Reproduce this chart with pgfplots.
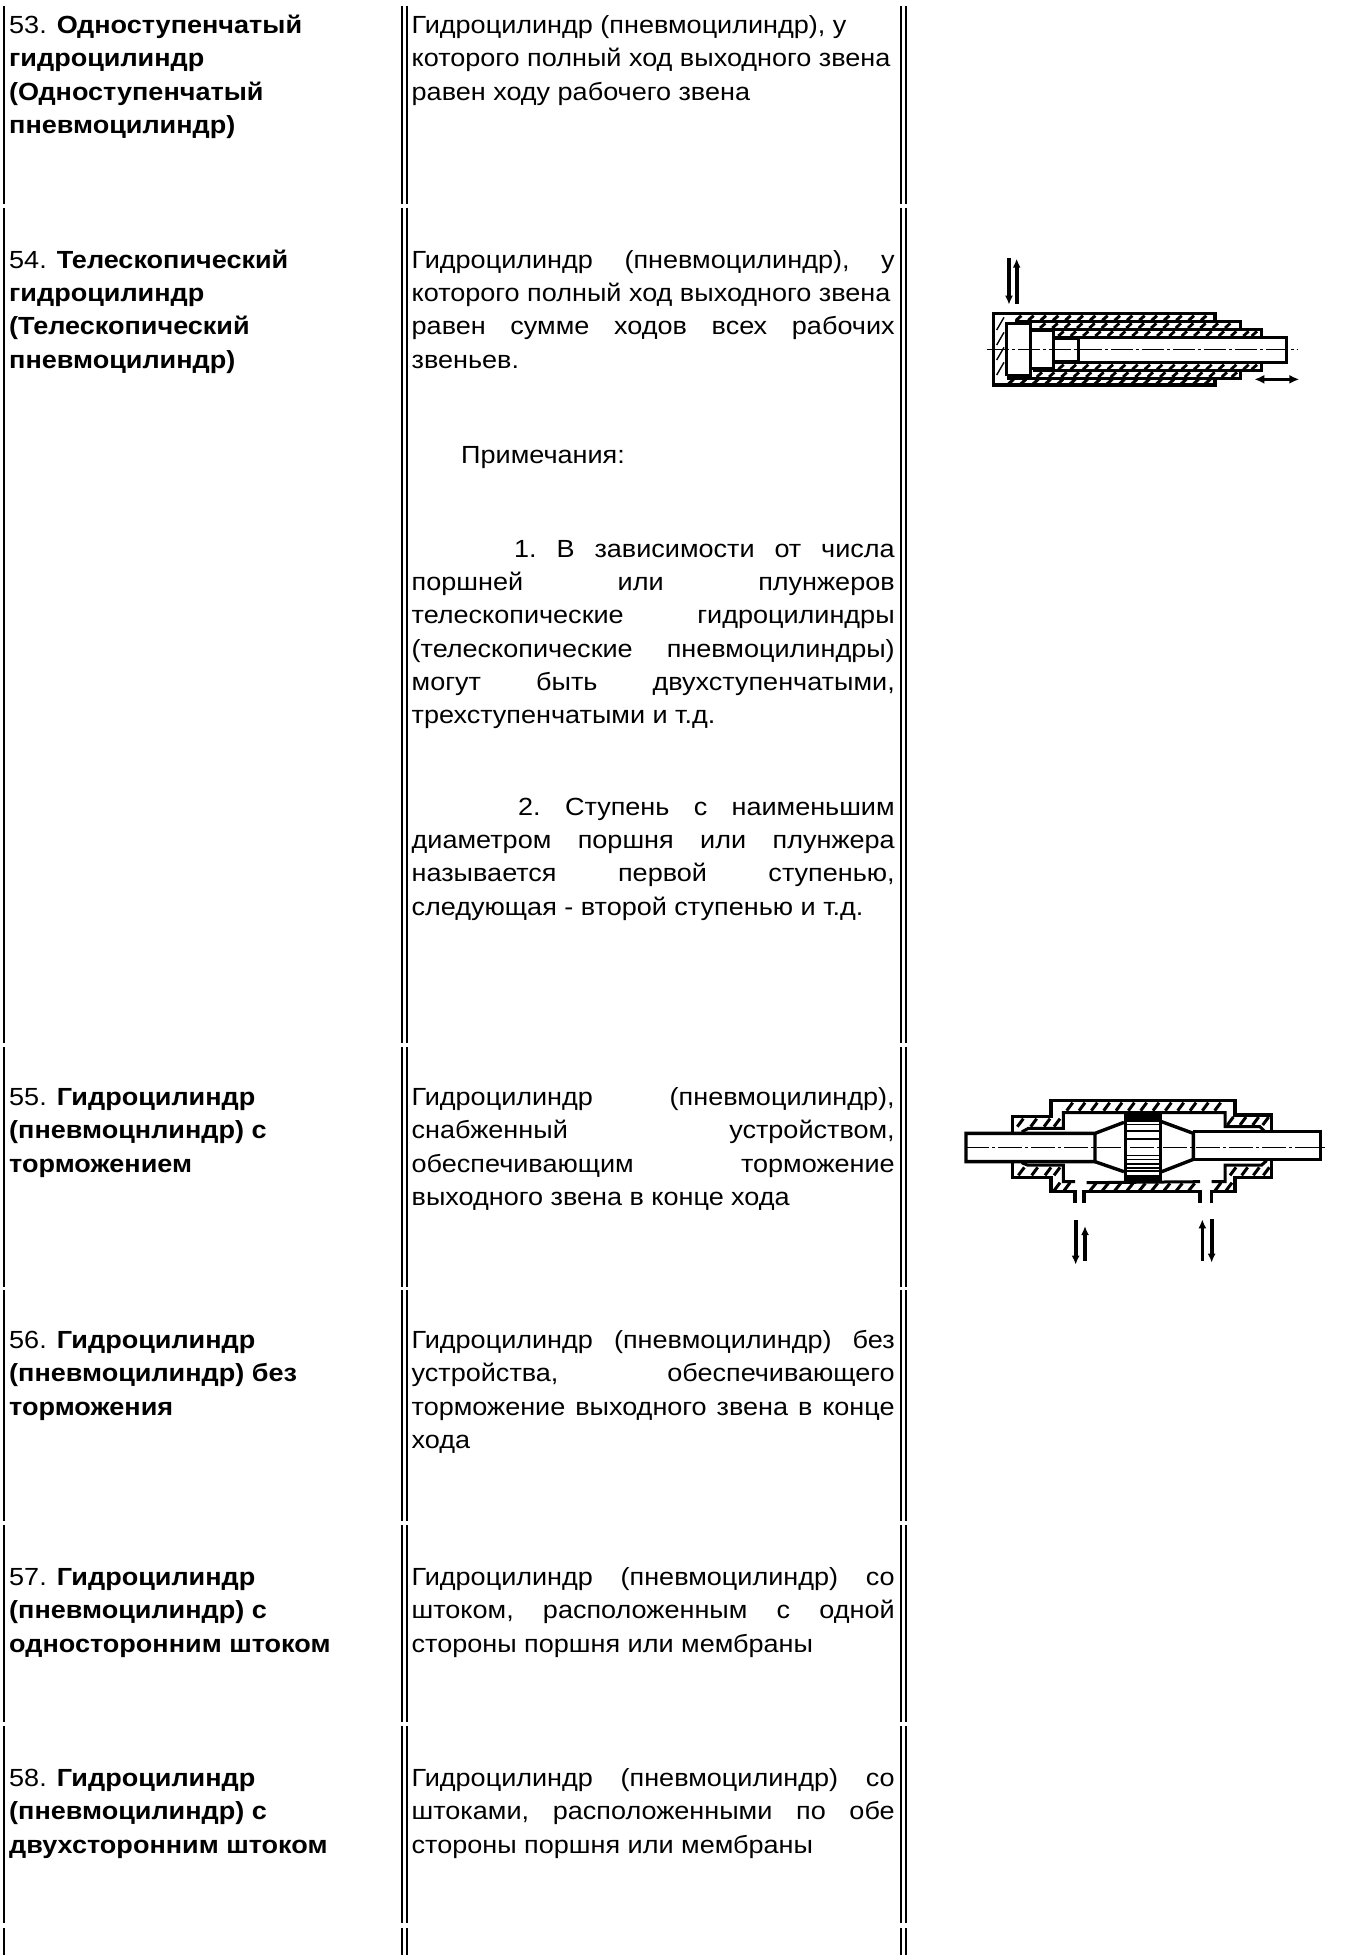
\documentclass[border=0pt]{standalone}
\usepackage{fontspec}
\setmainfont[FakeStretch=1.09]{Liberation Sans}
\usepackage{pgfplots}
\pgfplotsset{compat=1.18}
\usetikzlibrary{arrows.meta}
\pgfplotsset{page/.style={scale only axis,width=1369pt,height=1955pt,at={(0pt,0pt)},anchor=south west,hide axis,y dir=reverse,clip=false}}
\newcommand{\fs}{\fontsize{24.8}{33}\selectfont}
\newcommand{\T}[3]{\node[anchor=base west,inner sep=0pt,font=\fs] at (axis cs:#1,#2) {#3};}
\newcommand{\J}[4]{\node[anchor=base west,inner sep=0pt,font=\fs] at (axis cs:#1,#2) {\makebox[#3pt][s]{#4}};}
\newcommand{\sS}{\hspace{0pt plus 1fill}}
\newcommand{\rules}[1]{\addplot[black,line width=2pt,unbounded coords=jump] coordinates {(#1,6) (#1,204) (#1,nan) (#1,207.5) (#1,1043) (#1,nan) (#1,1047) (#1,1287) (#1,nan) (#1,1290) (#1,1521) (#1,nan) (#1,1525) (#1,1722) (#1,nan) (#1,1726) (#1,1923) (#1,nan) (#1,1928) (#1,1955)};}
\begin{document}
\begin{tikzpicture}
\path[use as bounding box] (0pt,0pt) rectangle (1369pt,1955pt);
% ---- table and text, axis units are reference pixels
\begin{axis}[page,xmin=0,xmax=1369,ymin=0,ymax=1955]
\rules{4.3}
\rules{401.5}
\rules{407}
\rules{901}
\rules{906}
% column 1
\T{9}{33}{53. \textbf{Одноступенчатый}}
\T{9}{66}{\textbf{гидроцилиндр}}
\T{9}{100}{\textbf{(Одноступенчатый}}
\T{9}{133}{\textbf{пневмоцилиндр)}}
\T{9}{268}{54. \textbf{Телескопический}}
\T{9}{301}{\textbf{гидроцилиндр}}
\T{9}{334}{\textbf{(Телескопический}}
\T{9}{368}{\textbf{пневмоцилиндр)}}
\T{9}{1105}{55. \textbf{Гидроцилиндр}}
\T{9}{1138}{\textbf{(пневмоцнлиндр) с}}
\T{9}{1172}{\textbf{торможением}}
\T{9}{1348}{56. \textbf{Гидроцилиндр}}
\T{9}{1381}{\textbf{(пневмоцилиндр) без}}
\T{9}{1415}{\textbf{торможения}}
\T{9}{1585}{57. \textbf{Гидроцилиндр}}
\T{9}{1618}{\textbf{(пневмоцилиндр) с}}
\T{9}{1652}{\textbf{односторонним штоком}}
\T{9}{1786}{58. \textbf{Гидроцилиндр}}
\T{9}{1819}{\textbf{(пневмоцилиндр) с}}
\T{9}{1853}{\textbf{двухсторонним штоком}}
% column 2
\T{411.5}{33}{Гидроцилиндр (пневмоцилиндр), у}
\T{411.5}{66}{которого полный ход выходного звена}
\T{411.5}{100}{равен ходу рабочего звена}
\J{411.5}{268}{483}{Гидроцилиндр\sS (пневмоцилиндр),\sS у}
\T{411.5}{301}{которого полный ход выходного звена}
\J{411.5}{334}{483}{равен\sS сумме\sS ходов\sS всех\sS рабочих}
\T{411.5}{368}{звеньев.}
\T{461}{463}{Примечания:}
\J{514}{557}{380.5}{1.\sS В\sS зависимости\sS от\sS числа}
\J{411.5}{590}{483}{поршней\sS или\sS плунжеров}
\J{411.5}{623}{483}{телескопические\sS гидроцилиндры}
\J{411.5}{657}{483}{(телескопические\sS пневмоцилиндры)}
\J{411.5}{690}{483}{могут\sS быть\sS двухступенчатыми,}
\T{411.5}{723}{трехступенчатыми и т.д.}
\J{518}{815}{376.5}{2.\sS Ступень\sS с\sS наименьшим}
\J{411.5}{848}{483}{диаметром\sS поршня\sS или\sS плунжера}
\J{411.5}{881}{483}{называется\sS первой\sS ступенью,}
\T{411.5}{915}{следующая - второй ступенью и т.д.}
\J{411.5}{1105}{483}{Гидроцилиндр\sS (пневмоцилиндр),}
\J{411.5}{1138}{483}{снабженный\sS устройством,}
\J{411.5}{1172}{483}{обеспечивающим\sS торможение}
\T{411.5}{1205}{выходного звена в конце хода}
\J{411.5}{1348}{483}{Гидроцилиндр\sS (пневмоцилиндр)\sS без}
\J{411.5}{1381}{483}{устройства,\sS обеспечивающего}
\J{411.5}{1415}{483}{торможение\sS выходного\sS звена\sS в\sS конце}
\T{411.5}{1448}{хода}
\J{411.5}{1585}{483}{Гидроцилиндр\sS (пневмоцилиндр)\sS со}
\J{411.5}{1618}{483}{штоком,\sS расположенным\sS с\sS одной}
\T{411.5}{1652}{стороны поршня или мембраны}
\J{411.5}{1786}{483}{Гидроцилиндр\sS (пневмоцилиндр)\sS со}
\J{411.5}{1819}{483}{штоками,\sS расположенными\sS по\sS обе}
\T{411.5}{1853}{стороны поршня или мембраны}
\end{axis}
% ---- telescopic cylinder, axis units are zoomed pixels
\begin{axis}[page,xmin=-2820,xmax=1287,ymin=-690,ymax=5175]
\addplot[black,line width=3.2pt] coordinates {(825,275) (825,250) (160,250) (160,465) (825,465) (825,445)};
\addplot[black,line width=3pt] coordinates {(225,275) (900,275) (900,298)};
\addplot[black,line width=3pt] coordinates {(280,298) (965,298) (965,322)};
\addplot[black,line width=3.2pt] coordinates {(345,322) (1040,322) (1040,398) (345,398)};
\addplot[black,line width=3pt] coordinates {(965,398) (965,422) (280,422)};
\addplot[black,line width=3pt] coordinates {(900,422) (900,445) (200,445)};
\addplot[black,line width=3.2pt] coordinates {(200,438) (200,280) (272,280) (272,438) (200,438)};
\addplot[black,line width=3.2pt] coordinates {(272,300) (340,300) (340,415) (272,415)};
\addplot[black,line width=3.2pt] coordinates {(340,325) (415,325) (415,395) (340,395)};
\addplot[black,line width=1.2pt,dash pattern=on 22pt off 3pt on 3pt off 3pt] coordinates {(140,358) (1075,358)};
\addplot[black,line width=1.4pt,quiver={u=22,v=-38}] coordinates {(170,300) (170,345) (170,390) (170,435)};
\addplot[black,line width=3pt,quiver={u=16,v=-14}] coordinates {(228,271) (265,271) (302,271) (339,271) (376,271) (413,271) (450,271) (487,271) (524,271) (561,271) (598,271) (635,271) (672,271) (709,271) (746,271) (783,271)};
\addplot[black,line width=2.8pt,quiver={u=16,v=-14}] coordinates {(300,294) (337,294) (374,294) (411,294) (448,294) (485,294) (522,294) (559,294) (596,294) (633,294) (670,294) (707,294) (744,294) (781,294) (818,294) (855,294)};
\addplot[black,line width=2.8pt,quiver={u=16,v=-14}] coordinates {(355,318) (392,318) (429,318) (466,318) (503,318) (540,318) (577,318) (614,318) (651,318) (688,318) (725,318) (762,318) (799,318) (836,318) (873,318) (910,318) (935,318)};
\addplot[black,line width=2.8pt,quiver={u=16,v=-14}] coordinates {(355,418) (392,418) (429,418) (466,418) (503,418) (540,418) (577,418) (614,418) (651,418) (688,418) (725,418) (762,418) (799,418) (836,418) (873,418) (910,418) (935,418)};
\addplot[black,line width=2.8pt,quiver={u=16,v=-14}] coordinates {(290,441) (327,441) (364,441) (401,441) (438,441) (475,441) (512,441) (549,441) (586,441) (623,441) (660,441) (697,441) (734,441) (771,441) (808,441) (845,441) (875,441)};
\addplot[black,line width=3pt,quiver={u=16,v=-14}] coordinates {(205,462) (242,462) (279,462) (316,462) (353,462) (390,462) (427,462) (464,462) (501,462) (538,462) (575,462) (612,462) (649,462) (686,462) (723,462) (760,462) (795,462)};
\addplot[black,line width=4.4pt,-{Latex[length=9pt,width=8pt]}] coordinates {(207,85) (207,224)};
\addplot[black,line width=3.8pt,-{Latex[length=9pt,width=8pt]}] coordinates {(230,222) (230,86)};
\addplot[black,line width=2.8pt,{Latex[length=10pt,width=9pt]}-{Latex[length=10pt,width=9pt]}] coordinates {(943,448) (1078,448)};
\end{axis}
% ---- cylinder with braking, axis units are zoomed pixels
\begin{axis}[page,xmin=-2820,xmax=1287,ymin=-3210,ymax=2655]
\addplot[black,line width=3.4pt] coordinates {(465,190) (78,190) (78,275) (465,275) (465,190) (552,157)};
\addplot[black,line width=3.4pt] coordinates {(465,275) (552,305)};
\addplot[black,line width=3.4pt] coordinates {(665,155) (760,190) (760,268) (665,305)};
\addplot[black,line width=3.4pt] coordinates {(760,185) (1142,185) (1142,268) (760,268)};
\addplot[black,line width=3.2pt] coordinates {(218,188) (218,140) (333,140) (333,92) (885,92) (885,135) (995,135) (995,182)};
\addplot[black,line width=3pt] coordinates {(245,186) (265,175) (370,175) (370,128) (855,128) (855,170) (960,170) (975,185)};
\addplot[black,line width=3.2pt] coordinates {(218,278) (218,322) (333,322) (333,365) (405,365) (405,400)};
\addplot[black,line width=3.2pt] coordinates {(432,400) (432,365) (780,365) (780,400)};
\addplot[black,line width=3.2pt] coordinates {(815,400) (815,365) (885,365) (885,322) (995,322) (995,272)};
\addplot[black,line width=3pt] coordinates {(245,278) (262,285) (370,285) (370,335) (405,335)};
\addplot[black,line width=3pt] coordinates {(440,338) (780,335)};
\addplot[black,line width=3pt] coordinates {(815,335) (855,335) (855,285) (965,285) (980,272)};
\addplot[black,line width=3pt] coordinates {(555,128) (555,335)};
\addplot[black,line width=3pt] coordinates {(662,128) (662,335)};
\addplot[black,line width=6pt] coordinates {(552,134) (665,134)};
\addplot[black,line width=7pt] coordinates {(552,324) (665,324)};
\addplot[black,line width=1.5pt,quiver={u=113,v=0}] coordinates {(552,147) (552,153) (552,163) (552,183) (552,207) (552,257) (552,268) (552,282) (552,294) (552,303)};
\addplot[black,line width=1.4pt,dash pattern=on 24pt off 3pt on 3pt off 3pt] coordinates {(75,232) (1155,232)};
\addplot[black,line width=3pt,quiver={u=18,v=-24}] coordinates {(380,122) (417,122) (454,122) (491,122) (528,122) (565,122) (602,122) (639,122) (676,122) (713,122) (750,122) (787,122) (824,122)};
\addplot[black,line width=3pt,quiver={u=18,v=-24}] coordinates {(232,170) (272,170) (312,170) (342,170)};
\addplot[black,line width=3pt,quiver={u=18,v=-24}] coordinates {(862,165) (900,165) (938,165) (968,165)};
\addplot[black,line width=3pt,quiver={u=18,v=-24}] coordinates {(235,316) (275,316) (315,316) (342,316)};
\addplot[black,line width=3pt,quiver={u=18,v=-24}] coordinates {(342,362) (372,362)};
\addplot[black,line width=3pt,quiver={u=18,v=-22}] coordinates {(450,362) (487,362) (524,362) (561,362) (598,362) (635,362) (672,362) (709,362) (746,362)};
\addplot[black,line width=3pt,quiver={u=18,v=-24}] coordinates {(825,362) (858,362)};
\addplot[black,line width=3pt,quiver={u=18,v=-24}] coordinates {(870,316) (905,316) (940,316) (970,316)};
\addplot[black,line width=4pt,-{Latex[length=9pt,width=8pt]}] coordinates {(407,450) (407,584)};
\addplot[black,line width=3.6pt,-{Latex[length=9pt,width=8pt]}] coordinates {(435,572) (435,468)};
\addplot[black,line width=3.6pt,-{Latex[length=9pt,width=8pt]}] coordinates {(787,572) (787,448)};
\addplot[black,line width=4pt,-{Latex[length=9pt,width=8pt]}] coordinates {(815,448) (815,578)};
\end{axis}
\end{tikzpicture}
\end{document}
